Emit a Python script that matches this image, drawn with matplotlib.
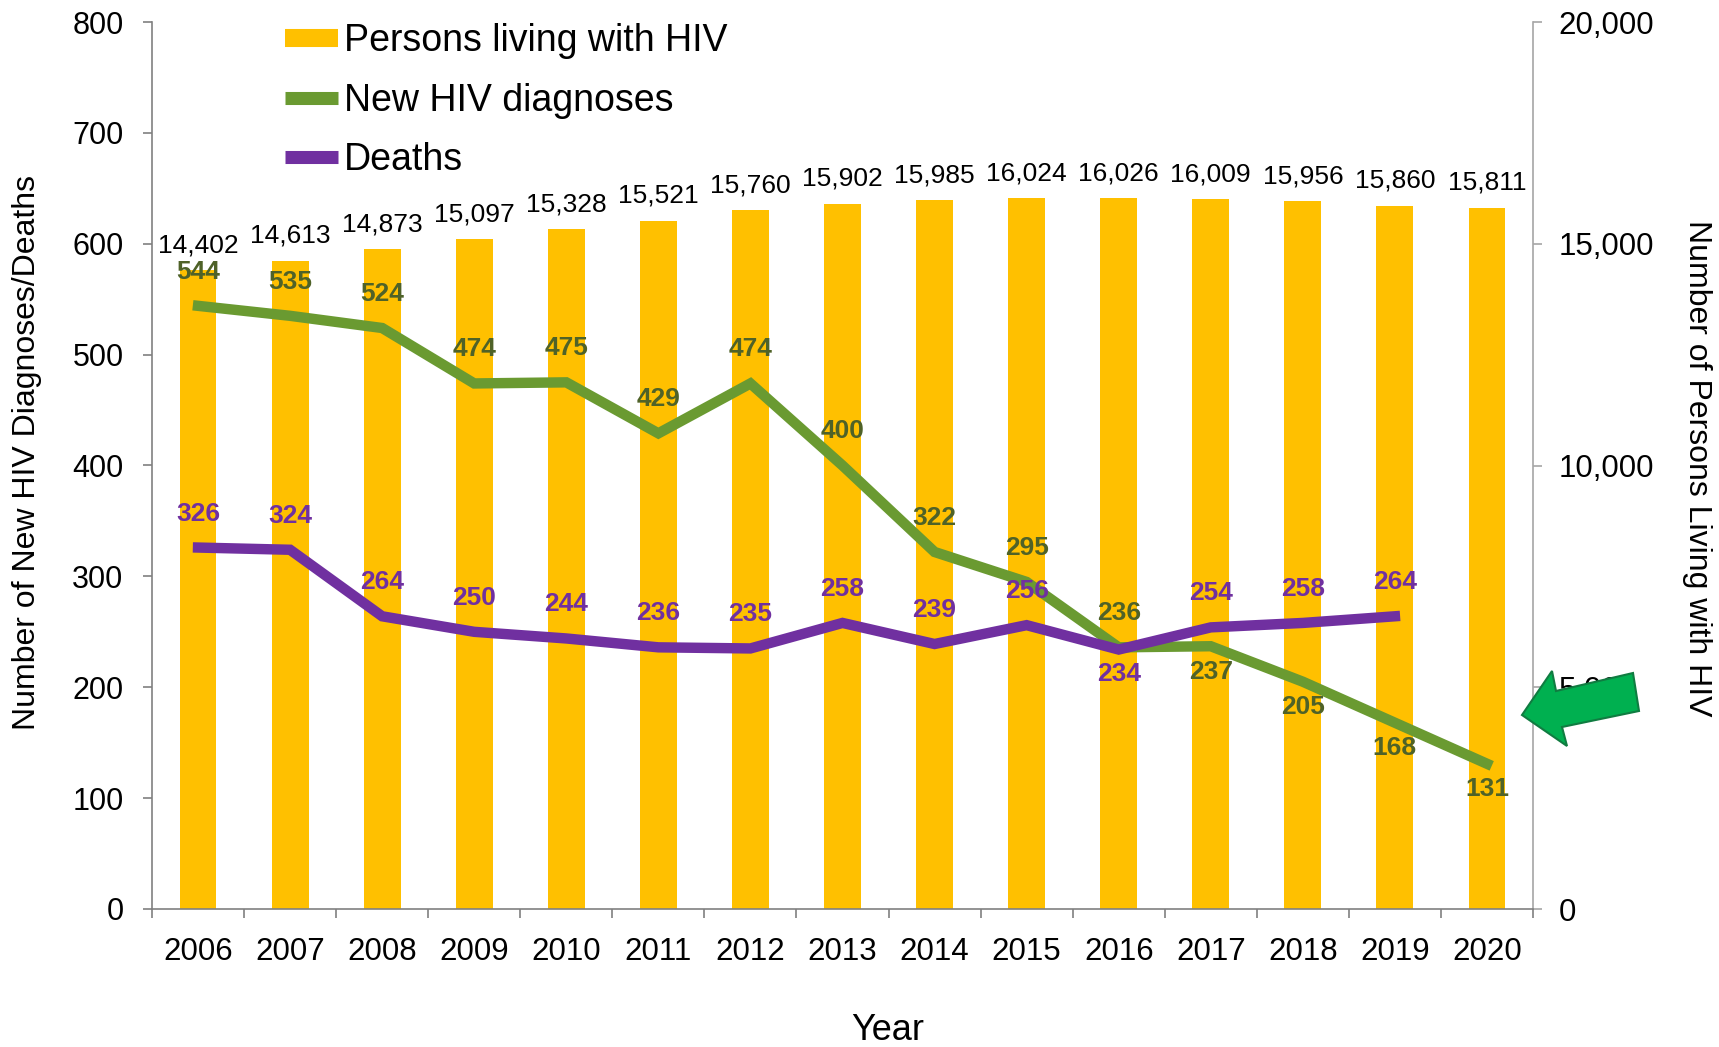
import numpy as np
import matplotlib
matplotlib.use('Agg')
from matplotlib import pyplot as plt
from matplotlib.lines import Line2D
from matplotlib.patches import Polygon
from matplotlib.ticker import FuncFormatter

plt.rcParams['font.family'] = ['Liberation Sans', 'DejaVu Sans']

years = ['2006', '2007', '2008', '2009', '2010', '2011', '2012', '2013',
         '2014', '2015', '2016', '2017', '2018', '2019', '2020']
persons_living = [14402, 14613, 14873, 15097, 15328, 15521, 15760, 15902,
                  15985, 16024, 16026, 16009, 15956, 15860, 15811]
new_diagnoses = [544, 535, 524, 474, 475, 429, 474, 400, 322, 295, 236, 237,
                 205, 168, 131]
deaths = [326, 324, 264, 250, 244, 236, 235, 258, 239, 256, 234, 254, 258, 264]

# where each line label sits relative to its point
diag_label_pos = ['a'] * 11 + ['b'] * 4
death_label_pos = ['a'] * 10 + ['b'] + ['a'] * 3

bar_color = '#FFC000'
green = '#6A9A31'
green_text = '#4F6228'
purple = '#7030A0'

fig = plt.figure(figsize=(17.19, 10.47), dpi=100)
ax = fig.add_axes([152 / 1719, 1 - 909 / 1047, (1533 - 152) / 1719, (909 - 22) / 1047])
ax2 = ax.twinx()
ax.set_zorder(ax2.get_zorder() + 1)
ax.patch.set_visible(False)

x = np.arange(len(years))

# bars on the right axis
ax2.bar(x, persons_living, width=0.4, color=bar_color, zorder=1)
ax2.set_ylim(0, 20000)
ax2.set_yticks([0, 5000, 10000, 15000, 20000])
ax2.yaxis.set_major_formatter(FuncFormatter(lambda v, p: f'{int(v):,}'))
for xi, v in zip(x, persons_living):
    ax2.annotate(f'{v:,}', (xi, v), xytext=(0, 18), textcoords='offset points',
                 ha='center', va='center', fontsize=19, color='black')

# lines on the left axis
ax.plot(x, new_diagnoses, color=green, lw=7.5, solid_joinstyle='miter', zorder=3)
ax.plot(x[:len(deaths)], deaths, color=purple, lw=7.5, solid_joinstyle='miter', zorder=4)
for xi, v, p in zip(x, new_diagnoses, diag_label_pos):
    off = 24.5 if p == 'a' else -18.5
    ax.annotate(str(v), (xi, v), xytext=(0, off), textcoords='offset points',
                ha='center', va='center', fontsize=19, fontweight='bold', color=green_text)
for xi, v, p in zip(x, deaths, death_label_pos):
    off = 24.5 if p == 'a' else -17.5
    ax.annotate(str(v), (xi, v), xytext=(0, off), textcoords='offset points',
                ha='center', va='center', fontsize=19, fontweight='bold', color=purple)

ax.set_xlim(-0.5, len(years) - 0.5)
ax.set_ylim(0, 800)
ax.set_yticks(range(0, 801, 100))
ax.set_xticks(x)
ax.set_xticklabels(years)
ax.set_xticks(np.arange(-0.5, len(years)), minor=True)
ax.tick_params(axis='x', which='major', length=0, pad=20, labelsize=22.5)
ax.tick_params(axis='x', which='minor', length=6.5, color='#808080', width=1.2)
ax.tick_params(axis='y', length=6.5, width=1.2, color='#808080', pad=14, labelsize=22)
ax2.tick_params(axis='y', length=6.5, width=1.2, color='#A6A6A6', pad=12, labelsize=22.5)

for s in ['top', 'right']:
    ax.spines[s].set_visible(False)
ax.spines['left'].set_color('#808080')
ax.spines['bottom'].set_color('#808080')
ax.spines['left'].set_linewidth(1.2)
ax.spines['bottom'].set_linewidth(1.2)
ax2.spines['top'].set_visible(False)
ax2.spines['left'].set_visible(False)
ax2.spines['bottom'].set_visible(False)
ax2.spines['right'].set_color('#A6A6A6')
ax2.spines['right'].set_linewidth(1.2)

fig.text(27 / 1719, 1 - 452 / 1047, 'Number of New HIV Diagnoses/Deaths', rotation=90,
         ha='center', va='center', fontsize=23)
fig.text(1697 / 1719, 1 - 468 / 1047, 'Number of Persons Living with HIV', rotation=270,
         ha='center', va='center', fontsize=23)
fig.text(888 / 1719, 1 - 1030 / 1047, 'Year', ha='center', va='center', fontsize=26)

handles = [
    Line2D([], [], color=bar_color, lw=13, solid_capstyle='butt'),
    Line2D([], [], color=green, lw=9.4, solid_capstyle='butt'),
    Line2D([], [], color=purple, lw=9.4, solid_capstyle='butt'),
]
fig.legend(handles, ['Persons living with HIV', 'New HIV diagnoses', 'Deaths'],
           loc='upper left', bbox_to_anchor=(285 / 1719, 1 - 23 / 1047),
           frameon=False, fontsize=27, handlelength=1.4, handletextpad=0.17,
           labelspacing=0.63, borderpad=0, borderaxespad=0)

# green callout arrow
arrow_px = [(1522, 715), (1552, 671), (1556, 691), (1633, 673),
            (1639, 711), (1562, 727), (1567, 746)]
arrow = Polygon([(px / 1719, 1 - py / 1047) for px, py in arrow_px], closed=True,
                facecolor='#00B050', edgecolor='#107C41', lw=1.5,
                transform=fig.transFigure, zorder=10)
fig.add_artist(arrow)

fig.savefig('out.png', dpi=100)
